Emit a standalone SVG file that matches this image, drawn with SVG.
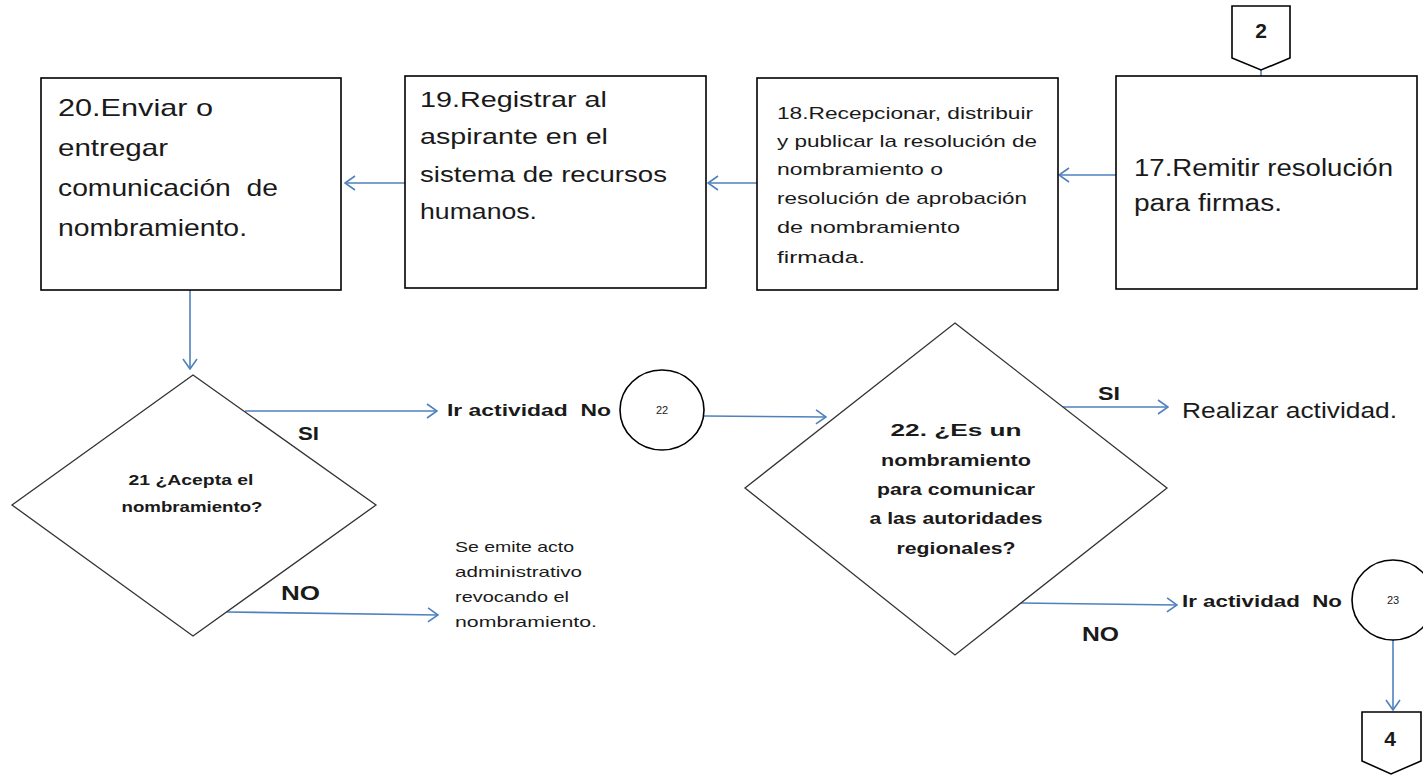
<svg xmlns="http://www.w3.org/2000/svg" width="1423" height="775" viewBox="0 0 1423 775">
<style>
.box{fill:#fff;stroke:#000;stroke-width:1.6}
.dia{fill:#fff;stroke:#333;stroke-width:1.3}
.con{fill:none;stroke:#4f81bd;stroke-width:1.6}
.t{font-family:"Liberation Sans",Arial,sans-serif;fill:#1a1a1a}
.b{font-weight:bold}
.m{text-anchor:middle}
</style>
<defs>
<marker id="ar" markerUnits="userSpaceOnUse" viewBox="0 0 12 16" markerWidth="12" markerHeight="16" refX="11" refY="8" orient="auto">
<path d="M1,1 L11,8 L1,15" fill="none" stroke="#4f81bd" stroke-width="1.6"/>
</marker>
</defs>
<rect width="1423" height="775" fill="#fff"/>
<g id="connectors">
<path class="con" d="M1261,70 L1261,77"/>
<path class="con" d="M1116,175 L1059,175" marker-end="url(#ar)"/>
<path class="con" d="M757,183 L708,183" marker-end="url(#ar)"/>
<path class="con" d="M405,183 L345,183" marker-end="url(#ar)"/>
<path class="con" d="M190,290 L190,369" marker-end="url(#ar)"/>
<path class="con" d="M245,411 L437,411" marker-end="url(#ar)"/>
<path class="con" d="M227,612 L438,615" marker-end="url(#ar)"/>
<path class="con" d="M704,416 L826,417" marker-end="url(#ar)"/>
<path class="con" d="M1063,407 L1168,407" marker-end="url(#ar)"/>
<path class="con" d="M1020,603 L1177,605" marker-end="url(#ar)"/>
<path class="con" d="M1393,640 L1393,710" marker-end="url(#ar)"/>
</g>
<g id="off2">
<path class="box" d="M1232,6 L1290,6 L1290,58 L1261,70 L1232,58 Z"/>
<text class="t b m" x="1261" y="38" font-size="21">2</text>
</g>
<g id="n17">
<rect class="box" x="1116" y="76" width="301" height="213"/>
<text class="t" font-size="23"><tspan x="1134" y="176" textLength="259" lengthAdjust="spacingAndGlyphs">17.Remitir resolución</tspan><tspan x="1134" y="211" textLength="148" lengthAdjust="spacingAndGlyphs">para firmas.</tspan></text>
</g>
<g id="n18">
<rect class="box" x="757" y="78" width="301" height="212"/>
<text class="t" font-size="17"><tspan x="777" y="119" textLength="256" lengthAdjust="spacingAndGlyphs">18.Recepcionar, distribuir</tspan><tspan x="777" y="147" textLength="260" lengthAdjust="spacingAndGlyphs">y publicar la resolución de</tspan><tspan x="777" y="175" textLength="166" lengthAdjust="spacingAndGlyphs">nombramiento o</tspan><tspan x="777" y="204" textLength="250" lengthAdjust="spacingAndGlyphs">resolución de aprobación</tspan><tspan x="777" y="233" textLength="183" lengthAdjust="spacingAndGlyphs">de nombramiento</tspan><tspan x="777" y="263" textLength="88" lengthAdjust="spacingAndGlyphs">firmada.</tspan></text>
</g>
<g id="n19">
<rect class="box" x="405" y="76" width="301" height="212"/>
<text class="t" font-size="22"><tspan x="420" y="107" textLength="187" lengthAdjust="spacingAndGlyphs">19.Registrar al</tspan><tspan x="420" y="144" textLength="188" lengthAdjust="spacingAndGlyphs">aspirante en el</tspan><tspan x="420" y="182" textLength="247" lengthAdjust="spacingAndGlyphs">sistema de recursos</tspan><tspan x="420" y="219" textLength="117" lengthAdjust="spacingAndGlyphs">humanos.</tspan></text>
</g>
<g id="n20">
<rect class="box" x="41" y="78" width="300" height="212"/>
<text class="t" font-size="24" xml:space="preserve"><tspan x="58" y="116" textLength="155" lengthAdjust="spacingAndGlyphs">20.Enviar o</tspan><tspan x="58" y="156" textLength="110" lengthAdjust="spacingAndGlyphs">entregar</tspan><tspan x="58" y="196" textLength="220" lengthAdjust="spacingAndGlyphs">comunicación  de</tspan><tspan x="58" y="236" textLength="189" lengthAdjust="spacingAndGlyphs">nombramiento.</tspan></text>
</g>
<g id="n21">
<path class="dia" d="M193,375 L376,505 L193,636 L12,505 Z"/>
<text class="t b m" font-size="15"><tspan x="191" y="485" textLength="125" lengthAdjust="spacingAndGlyphs">21 ¿Acepta el</tspan><tspan x="192" y="512" textLength="141" lengthAdjust="spacingAndGlyphs">nombramiento?</tspan></text>
</g>
<g id="lbl21">
<text class="t b" x="298" y="440" font-size="19" textLength="21" lengthAdjust="spacingAndGlyphs">SI</text>
<text class="t b" x="281" y="600" font-size="20" textLength="39" lengthAdjust="spacingAndGlyphs">NO</text>
<text class="t b" x="447" y="416" font-size="17" textLength="164" lengthAdjust="spacingAndGlyphs" xml:space="preserve">Ir actividad  No</text>
<text class="t" font-size="15"><tspan x="455" y="552" textLength="119" lengthAdjust="spacingAndGlyphs">Se emite acto</tspan><tspan x="455" y="577" textLength="127" lengthAdjust="spacingAndGlyphs">administrativo</tspan><tspan x="455" y="602" textLength="114" lengthAdjust="spacingAndGlyphs">revocando el</tspan><tspan x="455" y="627" textLength="142" lengthAdjust="spacingAndGlyphs">nombramiento.</tspan></text>
</g>
<g id="c22">
<ellipse class="box" cx="662" cy="410" rx="42" ry="40"/>
<text class="t m" x="662" y="414" font-size="11">22</text>
</g>
<g id="n22">
<path class="dia" d="M955,323 L1167,488 L955,655 L745,488 Z"/>
<text class="t b m" font-size="17"><tspan x="956" y="436" textLength="131" lengthAdjust="spacingAndGlyphs">22. ¿Es un</tspan><tspan x="956" y="466" textLength="150" lengthAdjust="spacingAndGlyphs">nombramiento</tspan><tspan x="956" y="495" textLength="158" lengthAdjust="spacingAndGlyphs">para comunicar</tspan><tspan x="956" y="524" textLength="173" lengthAdjust="spacingAndGlyphs">a las autoridades</tspan><tspan x="956" y="554" textLength="119" lengthAdjust="spacingAndGlyphs">regionales?</tspan></text>
</g>
<g id="lbl22">
<text class="t b" x="1098" y="400" font-size="19" textLength="22" lengthAdjust="spacingAndGlyphs">SI</text>
<text class="t" x="1182" y="418" font-size="22" textLength="215" lengthAdjust="spacingAndGlyphs">Realizar actividad.</text>
<text class="t b" x="1182" y="607" font-size="17" textLength="160" lengthAdjust="spacingAndGlyphs" xml:space="preserve">Ir actividad  No</text>
<text class="t b" x="1082" y="641" font-size="20" textLength="37" lengthAdjust="spacingAndGlyphs">NO</text>
</g>
<g id="c23">
<ellipse class="box" cx="1393" cy="600" rx="41" ry="40"/>
<text class="t m" x="1393" y="604" font-size="11">23</text>
</g>
<g id="off4">
<path class="box" d="M1362,712 L1421,712 L1421,761 L1391,774 L1362,761 Z"/>
<text class="t b m" x="1390" y="746" font-size="21">4</text>
</g>
</svg>
